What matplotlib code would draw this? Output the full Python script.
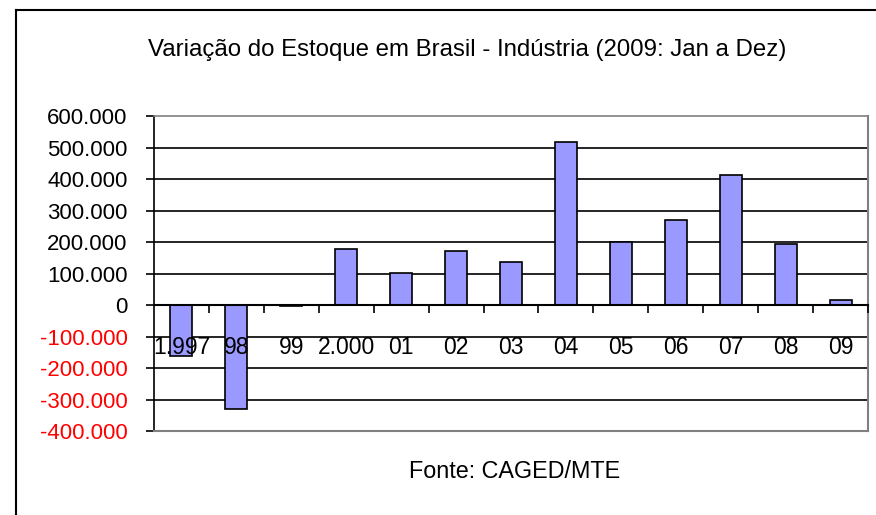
import matplotlib
matplotlib.use("Agg")
import matplotlib.pyplot as plt
from matplotlib.lines import Line2D
from matplotlib.ticker import FixedLocator

plt.rcParams['font.family'] = ['Liberation Sans', 'DejaVu Sans']

categories = ["1.997", "98", "99", "2.000", "01", "02", "03", "04", "05", "06", "07", "08", "09"]
values = [-162000, -330000, -4000, 178000, 103000, 172000, 137000, 517000, 200000, 271000, 414000, 195000, 17000]
yticks = [600000, 500000, 400000, 300000, 200000, 100000, 0, -100000, -200000, -300000, -400000]
ytick_labels = ["600.000", "500.000", "400.000", "300.000", "200.000", "100.000", "0",
                "-100.000", "-200.000", "-300.000", "-400.000"]
title = "Variação do Estoque em Brasil - Indústria (2009: Jan a Dez)"
source = "Fonte: CAGED/MTE"

W, H = 876, 515
fig = plt.figure(figsize=(W / 100, H / 100), dpi=100)
fig.patch.set_facecolor("white")

left, right, top, bottom = 154, 868, 116, 431
ax = fig.add_axes([left / W, 1 - bottom / H, (right - left) / W, (bottom - top) / H])

n = len(categories)
x = list(range(n))
ax.bar(x, values, width=0.4, color="#9999FF", edgecolor="black", linewidth=1.2, zorder=3)

ax.set_xlim(-0.5, n - 0.5)
ax.set_ylim(-400000, 600000)

# grid lines
for v in yticks:
    if v in (600000, -400000):
        continue
    ax.axhline(v, color="black", linewidth=1.2, zorder=1)

ax.set_yticks(yticks)
ax.set_yticklabels(ytick_labels)
for lab, v in zip(ax.get_yticklabels(), yticks):
    lab.set_color("red" if v < 0 else "black")
ax.tick_params(axis="y", direction="out", length=6, width=1.2, pad=13, labelsize=16, color="black")

# x axis at zero
ax.spines["bottom"].set_position(("data", 0))
ax.spines["bottom"].set_color("black")
ax.spines["bottom"].set_linewidth(1.5)
ax.spines["bottom"].set_zorder(4)
ax.spines["left"].set_color("black")
ax.spines["left"].set_linewidth(1.2)
ax.spines["top"].set_color("#808080")
ax.spines["top"].set_linewidth(1.2)
ax.spines["right"].set_color("#808080")
ax.spines["right"].set_linewidth(1.5)

ax.set_xticks(x)
ax.set_xticklabels(categories)
ax.xaxis.set_minor_locator(FixedLocator([i + 0.5 for i in range(n)]))
ax.tick_params(axis="x", which="major", length=0, pad=22, labelsize=16.5)
ax.tick_params(axis="x", which="minor", direction="out", length=6, width=1.2, color="black")
ax.xaxis.set_zorder(6)

# bottom border of plot area (gray)
ax.add_line(Line2D([0, 1], [0, 0], transform=ax.transAxes, color="#808080", linewidth=1.5, clip_on=False, zorder=5))

# chart area border (left and top)
fig.add_artist(Line2D([16 / W, 16 / W], [0, 1 - 10 / H], color="black", linewidth=1.5))
fig.add_artist(Line2D([16 / W, 1], [1 - 10 / H, 1 - 10 / H], color="black", linewidth=1.5))

fig.text(467 / W, 1 - 50 / H, title, ha="center", va="center", fontsize=17.3)
fig.text(515 / W, 1 - 472 / H, source, ha="center", va="center", fontsize=16.8)

fig.savefig("out.png", dpi=100, facecolor="white")
